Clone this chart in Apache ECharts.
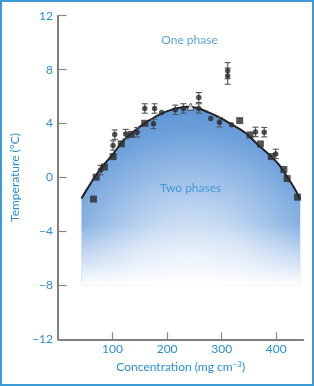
<!DOCTYPE html>
<html>
<head>
<meta charset="utf-8">
<script src="https://cdn.jsdelivr.net/npm/echarts@6/dist/echarts.min.js"></script>
<style>
html,body{margin:0;padding:0;background:#fff;}
#frame{width:314px;height:386px;box-sizing:border-box;border:2px solid #3b9bd6;position:relative;overflow:hidden;}
#chart{position:absolute;left:-2px;top:-2px;width:314px;height:386px;}
</style>
</head>
<body>
<div id="frame"><div id="chart"></div></div>
<script>
// Phase boundary (coexistence curve)
const curveX = [43, 55, 70, 85, 100, 120, 140, 160, 185, 210, 235, 255, 275, 296, 318, 342, 366, 391, 405, 420, 432, 444];
const curveY = [-1.55, -0.75, 0.2, 1.0, 1.7, 2.75, 3.45, 4.05, 4.65, 5.05, 5.25, 5.15, 4.85, 4.45, 3.95, 3.35, 2.45, 1.55, 0.95, 0.05, -0.7, -1.6];

// Circles with error bars (err 0 = no bar)
const circleX   = [78, 101, 104, 124, 145, 159, 177, 175, 190, 215, 230, 258, 258, 280, 296, 311, 311, 318, 362, 378, 399];
const circleY   = [0.55, 2.37, 3.18, 3.22, 3.35, 5.12, 5.12, 3.98, 4.82, 5.02, 5.12, 5.93, 5.12, 4.38, 4.1, 7.92, 7.52, 3.92, 3.38, 3.36, 1.75];
const circleErr = [0.35, 0.35, 0.35, 0.35, 0.35, 0.35, 0.35, 0.35, 0, 0.35, 0.35, 0.37, 0.35, 0, 0.35, 0.6, 0.6, 0, 0.35, 0.35, 0.35];

// Squares
const squareX = [65, 70, 85, 101, 116, 134, 159, 333, 352, 371, 391, 414, 420, 439];
const squareY = [-1.6, 0.02, 0.78, 1.55, 2.5, 3.2, 4.02, 4.22, 3.16, 2.49, 1.55, 0.6, -0.08, -1.46];

// Open triangle
const triX = [243];
const triY = [5.26];

// Region labels
const regionText = ['One phase', 'Two phases'];
const regionX = [241, 243];
const regionY = [10.2, -0.8];

const fillBottom = -8;
const blue = '#2a8ed4';

const chart = echarts.init(document.getElementById('chart'), null, {renderer: 'canvas'});

const curveData = curveX.map((x, i) => [x, curveY[i]]);
const circleData = circleX.map((x, i) => [x, circleY[i], circleErr[i]]);
const errData = circleData.filter(d => d[2] > 0);
const squareData = squareX.map((x, i) => [x, squareY[i]]);
const triData = triX.map((x, i) => [x, triY[i]]);
const textData = regionX.map((x, i) => ({value: [x, regionY[i]], name: regionText[i]}));

const option = {
  animation: false,
  backgroundColor: '#fff',
  grid: {left: 58, right: 10.5, top: 15.7, bottom: 46.7, containLabel: false},
  xAxis: {
    type: 'value', min: 0, max: 450, interval: 100,
    name: 'Concentration (mg cm{sup|−3})',
    nameLocation: 'middle', nameGap: 21,
    nameTextStyle: {color: blue, fontSize: 12, fontFamily: 'Lato',
      rich: {sup: {fontSize: 8, color: blue, verticalAlign: 'top', padding: [0,0,6,0]}}},
    axisLine: {show: true, onZero: false, lineStyle: {color: '#555', width: 1.5}},
    axisTick: {show: true, inside: true, length: 7, lineStyle: {color: '#888', width: 1.2}},
    axisLabel: {color: blue, fontSize: 12, fontFamily: 'Lato', margin: 4, showMaxLabel: false,
      formatter: v => v === 0 ? '' : String(v)},
    splitLine: {show: false}
  },
  yAxis: {
    type: 'value', min: -12, max: 12, interval: 4,
    name: 'Temperature (°C)',
    nameLocation: 'middle', nameGap: 33,
    nameTextStyle: {color: blue, fontSize: 12, fontFamily: 'Lato'},
    axisLine: {show: true, onZero: false, lineStyle: {color: '#555', width: 1.5}},
    axisTick: {show: true, inside: true, length: 8.5, lineStyle: {color: '#888', width: 1.2}},
    axisLabel: {color: blue, fontSize: 12, fontFamily: 'Lato', margin: 5,
      formatter: v => v < 0 ? '−' + Math.abs(v) : String(v)},
    splitLine: {show: false}
  },
  series: [
    {
      type: 'line', data: curveData, smooth: 0.35, symbol: 'none', z: 1,
      lineStyle: {width: 0, opacity: 0},
      areaStyle: {origin: fillBottom, opacity: 1,
        color: new echarts.graphic.RadialGradient(0.5, 0.95, 0.95, [
          {offset: 0, color: '#e4eef9'},
          {offset: 0.35, color: '#c6daf1'},
          {offset: 0.65, color: '#92b8e5'},
          {offset: 0.85, color: '#6ea1da'},
          {offset: 1, color: '#5b94d5'}
        ])}
    },
    {
      type: 'line', data: curveData, smooth: 0.35, symbol: 'none', z: 2,
      lineStyle: {width: 0, opacity: 0},
      areaStyle: {origin: fillBottom, opacity: 1,
        color: new echarts.graphic.LinearGradient(0, 0, 0, 1, [
          {offset: 0, color: 'rgba(255,255,255,0)'},
          {offset: 0.66, color: 'rgba(255,255,255,0)'},
          {offset: 0.88, color: 'rgba(255,255,255,0.6)'},
          {offset: 1, color: 'rgba(255,255,255,1)'}
        ])}
    },
    {
      type: 'line', data: curveData, smooth: 0.35, symbol: 'none', z: 3,
      lineStyle: {color: '#222', width: 2}
    },
    {
      type: 'custom', z: 4, data: errData,
      renderItem: function (params, api) {
        const x = api.value(0), y = api.value(1), e = api.value(2);
        const top = api.coord([x, y + e]);
        const bot = api.coord([x, y - e]);
        const w = 3;
        const style = {stroke: '#555', lineWidth: 1.1};
        return {type: 'group', children: [
          {type: 'line', shape: {x1: top[0], y1: top[1], x2: bot[0], y2: bot[1]}, style: style},
          {type: 'line', shape: {x1: top[0]-w, y1: top[1], x2: top[0]+w, y2: top[1]}, style: style},
          {type: 'line', shape: {x1: bot[0]-w, y1: bot[1], x2: bot[0]+w, y2: bot[1]}, style: style}
        ]};
      }
    },
    {
      type: 'scatter', z: 5, data: circleData, symbol: 'circle', symbolSize: 5.5,
      itemStyle: {color: '#2b2b2b'}
    },
    {
      type: 'scatter', z: 5, data: squareData, symbol: 'rect', symbolSize: 7,
      itemStyle: {color: '#2b2b2b'}
    },
    {
      type: 'scatter', z: 5, data: triData, symbol: 'triangle', symbolSize: 7,
      itemStyle: {color: '#fff', borderColor: '#333', borderWidth: 1}
    },
    {
      type: 'scatter', z: 6, data: textData, symbolSize: 0, silent: true,
      label: {show: true, position: 'inside', formatter: p => p.name,
        color: blue, fontSize: 12, fontFamily: 'Lato'}
    }
  ]
};
chart.setOption(option);
</script>
</body>
</html>
